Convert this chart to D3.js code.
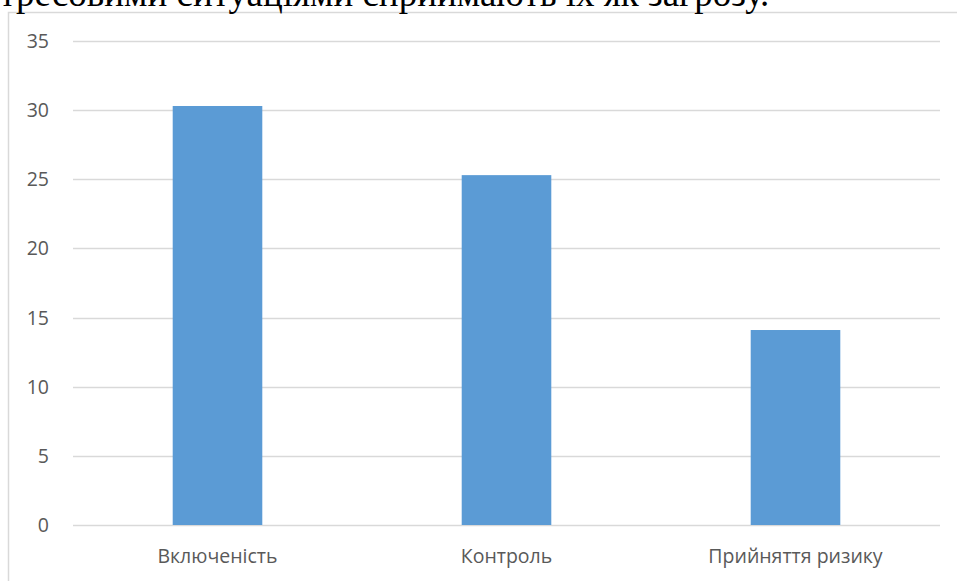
<!DOCTYPE html>
<html>
<head>
<meta charset="utf-8">
<title>chart</title>
<script src="https://cdn.jsdelivr.net/npm/d3@7"></script>
<style>
	body { margin:0; background:#ffffff; overflow:hidden; }
	.axis text { font-family:"Open Sans", sans-serif; font-size:19.5px; fill:#595959; }
	.cat text { font-family:"Open Sans", sans-serif; font-size:19.5px; fill:#595959; }
</style>
</head>
<body>
<script>
	// data
	var categories = ["Включеність", "Контроль", "Прийняття ризику"];
	var values = [30.3, 25.3, 14.1];
	var yTicks = [0, 5, 10, 15, 20, 25, 30, 35];

	var width = 957, height = 581;
	var svg = d3.select("body").append("svg")
		.attr("width", width)
		.attr("height", height);

	// chart frame
	svg.append("rect")
		.attr("x", 8.5).attr("y", 12.5)
		.attr("width", 1000).attr("height", 1000)
		.attr("fill", "#fff")
		.attr("stroke", "#d9d9d9")
		.attr("stroke-width", 1.5);

	// text of the page above the chart (cut off by the window)
	svg.append("text")
		.attr("x", -17)
		.attr("y", 6)
		.attr("font-family", "'Liberation Serif', 'DejaVu Serif', serif")
		.attr("font-size", 37)
		.attr("fill", "#000")
		.text("стресовими ситуаціями сприймають їх як загрозу.");

	var plot = {left:73, right:940, top:41, bottom:525};

	var x = d3.scaleBand()
		.domain(categories)
		.range([plot.left, plot.right])
		.paddingInner(0.69)
		.paddingOuter(0.345);

	var y = d3.scaleLinear()
		.domain([0, 35])
		.range([plot.bottom, plot.top]);

	// grid
	svg.append("g")
		.selectAll("line")
		.data(yTicks)
		.enter()
		.append("line")
		.attr("x1", plot.left).attr("x2", plot.right)
		.attr("y1", function(d){return Math.round(y(d)) + 0.5;})
		.attr("y2", function(d){return Math.round(y(d)) + 0.5;})
		.attr("stroke", "#d9d9d9")
		.attr("stroke-width", 1.3);

	// y labels
	svg.append("g")
		.attr("class", "axis")
		.selectAll("text")
		.data(yTicks)
		.enter()
		.append("text")
		.attr("x", 49)
		.attr("y", function(d){return y(d);})
		.attr("dy", "0.36em")
		.attr("text-anchor", "end")
		.text(function(d){return d;});

	// bars
	svg.append("g")
		.selectAll("rect")
		.data(values)
		.enter()
		.append("rect")
		.attr("x", function(d, i){return x(categories[i]);})
		.attr("width", x.bandwidth())
		.attr("y", function(d){return y(d);})
		.attr("height", function(d){return y(0) - y(d);})
		.attr("fill", "#5b9bd5");

	// category labels
	svg.append("g")
		.attr("class", "cat")
		.selectAll("text")
		.data(categories)
		.enter()
		.append("text")
		.attr("x", function(d){return x(d) + x.bandwidth()/2;})
		.attr("y", 563)
		.attr("text-anchor", "middle")
		.text(function(d){return d;});
</script>
</body>
</html>
